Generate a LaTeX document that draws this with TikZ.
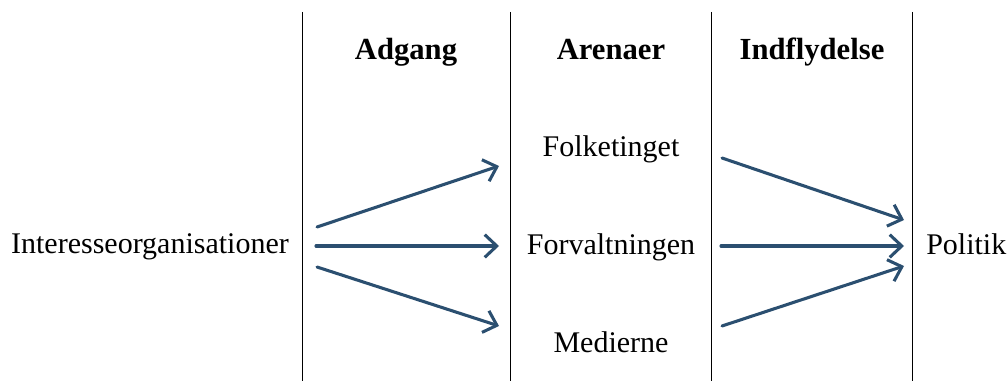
\documentclass[tikz,border=0pt]{standalone}
\usepackage{fontspec}
\setmainfont{Liberation Serif}
\usetikzlibrary{arrows.meta}
\definecolor{FlowClr}{rgb}{0.17,0.31,0.44}

\tikzset{
  lbl/.style={font=\fontsize{22.5}{26}\selectfont, inner sep=0pt, anchor=base},
  head/.style={font=\fontsize{23}{27}\selectfont\bfseries, inner sep=0pt, anchor=base},
  flow/.style={FlowClr, line width=2.3pt, line cap=round,
    -{Straight Barb[length=9pt,width=17pt,line width=2.3pt]}},
  divider/.style={line width=0.6pt}
}

\begin{document}
\begin{tikzpicture}[x=0.75pt,y=-0.75pt]
\useasboundingbox (0,0) rectangle (1007,381);

% columns
\foreach \x in {302,510,711,912}
  \draw[divider] (\x,12) -- (\x,381);

% headings
\node[head] (adgang) at (406,60) {Adgang};
\node[head] (arenaer) at (611,60) {Arenaer};
\node[head] (indfl) at (812,60) {Indflydelse};

% actors and arenas
\node[lbl] (org) at (150,253) {Interesseorganisationer};
\node[lbl] (folk) at (611,157) {Folketinget};
\node[lbl] (forv) at (611,254) {Forvaltningen};
\node[lbl] (med) at (611,352) {Medierne};
\node[lbl,anchor=base west] (pol) at (926,254) {Politik};

% arrow ends
\coordinate (a1) at (317,227); \coordinate (b1) at (499,166);
\coordinate (a2) at (316,246); \coordinate (b2) at (499,246);
\coordinate (a3) at (317,267); \coordinate (b3) at (499,326);
\coordinate (c1) at (722,158); \coordinate (d1) at (904,220);
\coordinate (c2) at (721,246); \coordinate (d2) at (904,246);
\coordinate (c3) at (722,326); \coordinate (d3) at (904,266);

\foreach \i in {1,2,3} {
  \draw[flow] (a\i) -- (b\i);
  \draw[flow] (c\i) -- (d\i);
}

\end{tikzpicture}
\end{document}
